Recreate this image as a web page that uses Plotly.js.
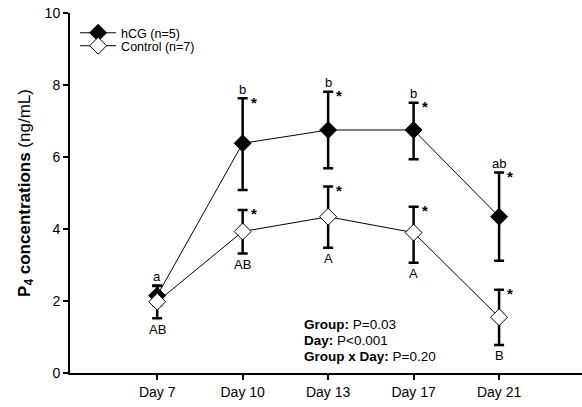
<!DOCTYPE html>
<html>
<head>
<meta charset="utf-8">
<script src="https://cdn.plot.ly/plotly-3.0.1.min.js"></script>
<style>html,body{margin:0;padding:0;background:#fff}#chart{width:582px;height:407px}</style>
</head>
<body>
<div id="chart"></div>
<script>
// ---- data ----
const days = ["Day 7", "Day 10", "Day 13", "Day 17", "Day 21"];

const hcgMean  = [2.15, 6.38, 6.75, 6.75, 4.34];
const hcgPlus  = [0.27, 1.25, 1.06, 0.76, 1.23];
const hcgMinus = [0.27, 1.30, 1.06, 0.81, 1.22];

const ctlMean  = [1.98, 3.93, 4.34, 3.90, 1.55];
const ctlPlus  = [0.45, 0.60, 0.84, 0.72, 0.76];
const ctlMinus = [0.46, 0.61, 0.86, 0.84, 0.77];

const hcgLetters = ["a", "b", "b", "b", "ab"];      // above hCG bars
const ctlLetters = ["AB", "AB", "A", "A", "B"];     // below control bars
const hcgStar = [false, true, true, true, true];
const ctlStar = [false, true, true, true, true];

const statLabels = ["Group:", "Day:", "Group x Day:"];
const statValues = [" P=0.03", " P<0.001", " P=0.20"];

const FONT = "Liberation Sans, Arial, sans-serif";
const xIdx = days.map((d, i) => i);

const traces = [
  {
    name: "hCG (n=5)", x: xIdx, y: hcgMean, type: "scatter", mode: "lines+markers",
    line: {color: "#000", width: 1},
    marker: {symbol: "diamond", size: 13, color: "#000", line: {color: "#000", width: 1}},
    error_y: {type: "data", symmetric: false, array: hcgPlus, arrayminus: hcgMinus,
              color: "#000", thickness: 2.5, width: 5},
    legend: "legend"
  },
  {
    name: "Control (n=7)", x: xIdx, y: ctlMean, type: "scatter", mode: "lines+markers",
    line: {color: "#000", width: 1},
    marker: {symbol: "diamond", size: 13, color: "#fff", line: {color: "#000", width: 1}},
    error_y: {type: "data", symmetric: false, array: ctlPlus, arrayminus: ctlMinus,
              color: "#000", thickness: 2.5, width: 5},
    legend: "legend2"
  }
];

const ann = [];
xIdx.forEach(i => {
  const top = hcgMean[i] + hcgPlus[i];
  ann.push({x: i, y: top, xref: "x", yref: "y", text: hcgLetters[i], showarrow: false,
            yanchor: "middle", yshift: 9, font: {family: FONT, size: 13, color: "#000"}});
  if (hcgStar[i]) ann.push({x: i, y: top, xref: "x", yref: "y", text: "<b>*</b>", showarrow: false,
            xanchor: "center", yanchor: "middle", xshift: 11, yshift: -4,
            font: {family: FONT, size: 15, color: "#000"}});
  const ctop = ctlMean[i] + ctlPlus[i];
  if (ctlStar[i]) ann.push({x: i, y: ctop, xref: "x", yref: "y", text: "<b>*</b>", showarrow: false,
            xanchor: "center", yanchor: "middle", xshift: 11, yshift: -4,
            font: {family: FONT, size: 15, color: "#000"}});
  const bot = ctlMean[i] - ctlMinus[i];
  ann.push({x: i, y: bot, xref: "x", yref: "y", text: ctlLetters[i], showarrow: false,
            yanchor: "middle", yshift: -11, font: {family: FONT, size: 13, color: "#000"}});
});
const statY = [0.135, 0.091, 0.047];
statLabels.forEach((lab, k) => {
  ann.push({
    x: 0.4525, y: statY[k], xref: "paper", yref: "paper", xanchor: "left", yanchor: "middle",
    align: "left", showarrow: false,
    text: "<b>" + lab + "</b>" + statValues[k],
    font: {family: FONT, size: 13.5, color: "#000"}
  });
});

const layout = {
  width: 582, height: 407,
  margin: {l: 70, r: 0, t: 13, b: 34},
  paper_bgcolor: "#fff", plot_bgcolor: "#fff",
  font: {family: FONT, size: 13.5, color: "#000"},
  showlegend: true,
  xaxis: {
    range: [-1.02, 4.97], tickmode: "array", tickvals: xIdx, ticktext: days,
    showgrid: false, zeroline: false, showline: true, linecolor: "#000", linewidth: 2,
    ticks: "outside", ticklen: 5, tickwidth: 2, tickcolor: "#000",
    tickfont: {family: FONT, size: 14, color: "#000"}
  },
  yaxis: {
    range: [0, 10], tickvals: [0, 2, 4, 6, 8, 10],
    showgrid: false, zeroline: false, showline: true, linecolor: "#000", linewidth: 2,
    ticks: "outside", ticklen: 5, tickwidth: 2, tickcolor: "#000",
    tickfont: {family: FONT, size: 14, color: "#000"},
    title: {text: "<b>P<sub>4</sub> concentrations</b> (ng/mL)", standoff: 10,
            font: {family: FONT, size: 17, color: "#000"}}
  },
  legend: {x: 0.01, y: 0.944, xanchor: "left", yanchor: "middle", bgcolor: "rgba(0,0,0,0)",
           itemwidth: 36, font: {family: FONT, size: 12.5, color: "#000"}},
  legend2: {x: 0.01, y: 0.908, xanchor: "left", yanchor: "middle", bgcolor: "rgba(0,0,0,0)",
           itemwidth: 36, font: {family: FONT, size: 12.5, color: "#000"}},
  annotations: ann
};

Plotly.newPlot("chart", traces, layout, {displayModeBar: false, staticPlot: true});
</script>
</body>
</html>
